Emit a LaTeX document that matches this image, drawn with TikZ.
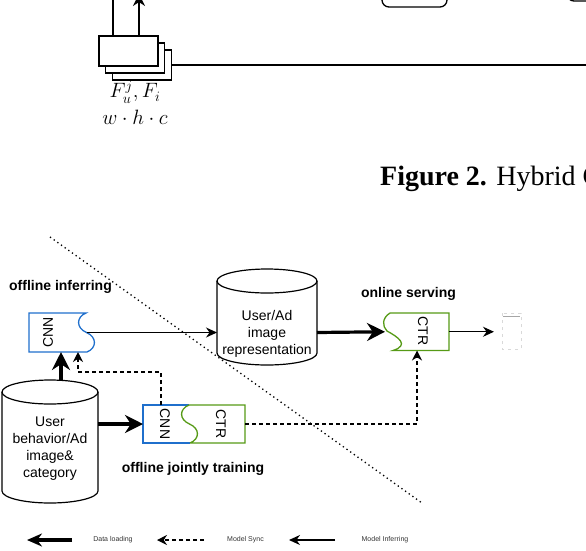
\documentclass[tikz,border=0pt]{standalone}
\usepackage{fontspec}
\setmainfont{Liberation Serif}
\setsansfont{Liberation Sans}
\usetikzlibrary{calc, arrows.meta}

\definecolor{cnnblue}{RGB}{31,111,204}
\definecolor{ctrgreen}{RGB}{86,154,22}

\begin{document}
\begin{tikzpicture}[x=1pt, y=-1pt,
		shapearea/.style={draw=none, inner sep=0pt, outer sep=0pt},
		featbox/.style={draw, line width=1.3pt, fill=white, minimum width=59pt, minimum height=30pt, inner sep=0pt},
		cnnline/.style={draw=cnnblue, line width=1.3pt},
		ctrline/.style={draw=ctrgreen, line width=1.3pt},
		dbline/.style={draw, line width=1.2pt},
		stagelabel/.style={font=\sffamily\bfseries\fontsize{14}{16}\selectfont},
		dbtext/.style={font=\sffamily\fontsize{14}{17}\selectfont, align=center, inner sep=0pt},
		boxtext/.style={font=\sffamily\fontsize{14}{16}\selectfont, inner sep=0pt},
		legtext/.style={font=\sffamily\fontsize{7}{8}\selectfont, text=black!80},
		loadarrow/.style={line width=3.2pt, -{Stealth[length=18pt, width=18pt]}},
		inferarrow/.style={line width=1.2pt, -{Stealth[length=11pt, width=10pt]}},
		syncarrow/.style={line width=1.3pt, dash pattern=on 4pt off 3pt, -{Stealth[length=10pt, width=10pt]}},
		cutline/.style={line width=1.3pt, dash pattern=on 1.3pt off 3.2pt}]
	\useasboundingbox (0,0) rectangle (586,550);
	\clip (0,0) rectangle (586,550);

	\coordinate (topL) at (113,0);
	\coordinate (topR) at (139,-6);
	\coordinate (featOut) at (590,65);
	\node[featbox] (feat3) at (142,65) {};
	\node[featbox] (feat2) at (135,58) {};
	\node[featbox] (feat1) at (128.5,51) {};
	\draw[line width=1.3pt] (feat1.north -| topL) -- (topL);
	\draw[line width=1.3pt, -{Stealth[length=12pt, width=12pt]}] (feat1.north -| topR) -- (topR);
	\draw[line width=1.3pt] (feat3.east) -- (featOut);
	\node[inner sep=0pt] (featName) at (135,92) {\fontsize{20.74}{24}\selectfont $F_u^j, F_i$};
	\node[inner sep=0pt] (featSize) at (135,117) {\fontsize{20.74}{24}\selectfont $w \cdot h \cdot c$};
	\draw[line width=1.3pt, rounded corners=7pt] (382,-20) rectangle (447,7);
	\draw[line width=1.3pt, rounded corners=7pt] (567,-20) rectangle (620,1);
	\node[anchor=base west, inner sep=0pt, font=\fontsize{28}{32}\selectfont] (caption) at (380,185) {\textbf{Figure 2.} Hybrid C};

	\coordinate (cutA) at (50,237);
	\coordinate (cutB) at (422,503);
	\draw[cutline] (cutA) -- (cutB);

	\node[shapearea, minimum width=64pt, minimum height=39pt] (cnnInfer) at (61,332.5) {};
	\node[shapearea, minimum width=100pt, minimum height=96pt] (dbRep) at (267,317) {};
	\node[shapearea, minimum width=64pt, minimum height=37.5pt] (ctrServe) at (417,331.75) {};
	\node[shapearea, minimum width=19pt, minimum height=36pt] (phone) at (511.5,331) {};
	\node[shapearea, minimum width=96pt, minimum height=123pt] (dbData) at (50,441.5) {};
	\node[shapearea, minimum width=102pt, minimum height=38pt] (jointTrain) at (194,424) {};

	\draw[cnnline] (86,313) .. controls (76,317) and (76,328) .. (86.5,332.5) coordinate (cnnOut)
		.. controls (97,337) and (97,348) .. (87,352) -- (29,352) -- (29,313) -- cycle;
	\draw[ctrline] (390,313) .. controls (382,318) and (382,326) .. (387,331)
		.. controls (398,337) and (410,345) .. (393,350.5) -- (449,350.5) -- (449,313) -- cycle;
	\draw[cnnline] (189,405) -- (143,405) -- (143,443) -- (190,443);
	\draw[ctrline] (190,443) -- (245,443) -- (245,405) -- (189,405)
		.. controls (179,409) and (179,419.5) .. (189.5,424)
		.. controls (200,428.5) and (200,439) .. (190,443);

	\draw[dbline] (267,281) ellipse [x radius=50, y radius=12];
	\draw[dbline] (217,281) -- (217,353) arc [start angle=180, end angle=0, x radius=50, y radius=12] -- (317,281);
	\draw[dbline] (50,392) ellipse [x radius=48, y radius=12];
	\draw[dbline] (2,392) -- (2,491) arc [start angle=180, end angle=0, x radius=48, y radius=12] -- (98,392);

	\draw[gray!30, line width=0.8pt, dash pattern=on 3pt off 4pt] (phone.north west) rectangle (phone.south east);
	\draw[gray!70, line width=0.9pt] ($(phone.north west)+(1,3)$) -- ($(phone.north east)+(-1,3)$);

	\node[stagelabel] (inferLabel) at (60.5,287) {offline inferring};
	\node[stagelabel] (serveLabel) at (408.5,294) {online serving};
	\node[stagelabel] (trainLabel) at (193,469) {offline jointly training};
	\node[dbtext] (repText) at (267,334) {User/Ad\\image\\representation};
	\node[dbtext] (dataText) at (50,449) {User\\behavior/Ad\\image\&\\category};
	\node[boxtext, rotate=90] (cnnInferText) at (48,332.5) {CNN};
	\node[boxtext, rotate=-90] (cnnTrainText) at (165,424) {CNN};
	\node[boxtext, rotate=-90] (ctrTrainText) at (221,424) {CTR};
	\node[boxtext, rotate=-90] (ctrServeText) at (423,331) {CTR};

	\draw[inferarrow] (cnnOut) -- (cnnOut -| dbRep.west);
	\draw[loadarrow] (dbRep.east |- cnnOut) -- (ctrServe.west);
	\draw[inferarrow, shorten >=8pt] (ctrServe.east) -- (ctrServe.east -| phone.west);
	\draw[loadarrow] (cnnInfer.south |- dbData.north) -- (cnnInfer.south);
	\draw[loadarrow] (dbData.east |- jointTrain.west) -- (jointTrain.west);
	\draw[syncarrow] ($(jointTrain.north west)+(18,0)$) |- ($(cnnInfer.south)+(17,20)$) -- ($(cnnInfer.south)+(17,0)$);
	\draw[syncarrow] (jointTrain.east) -| (ctrServe.south);

	\coordinate (legLoadA) at (72,540);
	\coordinate (legLoadB) at (27,540);
	\coordinate (legSyncA) at (204,540);
	\coordinate (legSyncB) at (157,540);
	\coordinate (legInferA) at (335,540);
	\coordinate (legInferB) at (289,540);
	\draw[loadarrow, -{Stealth[length=15pt, width=13pt]}] (legLoadA) -- (legLoadB);
	\draw[syncarrow] (legSyncA) -- (legSyncB);
	\draw[inferarrow] (legInferA) -- (legInferB);
	\node[legtext] (legLoad) at (113,540) {Data loading};
	\node[legtext] (legSync) at (245.5,540) {Model Sync};
	\node[legtext] (legInfer) at (385,540) {Model Inferring};
\end{tikzpicture}
\end{document}
